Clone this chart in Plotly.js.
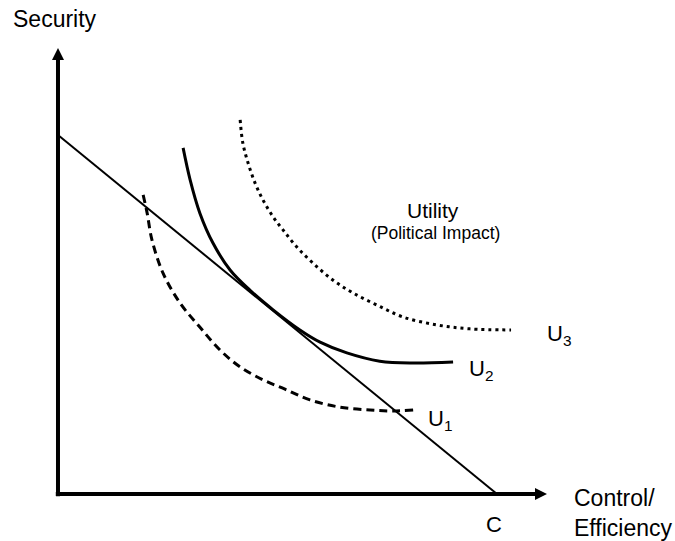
<!DOCTYPE html>
<html>
<head>
<meta charset="utf-8">
<script src="https://cdn.plot.ly/plotly-3.0.1.min.js"></script>
<style>html,body{margin:0;padding:0;background:#fff;}#chart{width:675px;height:541px;}</style>
</head>
<body>
<div id="chart"></div>
<script>
// Budget (constraint) line: from Security axis intercept to C on Control/Efficiency axis
const budgetX = [0, 100];
const budgetY = [100, 0];

// Indifference (utility) curves
const u1X = [19.4, 20.3, 21.4, 23.9, 27.8, 32.3, 36.9, 41.5, 46.7, 51.7, 57.4, 64.2, 71.1, 76.3, 80.9];
const u1Y = [83.3, 78.3, 70.8, 61.6, 53.2, 46.5, 40.1, 35.4, 31.8, 29.2, 26.2, 24.2, 23.4, 23.1, 23.4];

const u2X = [28.5, 30.1, 32.3, 35.3, 39.2, 43.7, 49.0, 55.1, 59.7, 65.8, 73.3, 80.9, 90.0];
const u2Y = [96.4, 87.5, 78.3, 69.9, 62.4, 56.8, 51.3, 45.7, 42.3, 39.3, 37.0, 36.5, 36.8];

const u3X = [41.5, 42.1, 43.3, 44.9, 46.7, 49.0, 51.3, 54.4, 58.1, 62.6, 67.2, 72.7, 78.6, 86.3, 93.8, 103.2];
const u3Y = [104.2, 97.8, 92.2, 86.6, 81.9, 77.2, 73.5, 68.8, 64.3, 59.6, 56.0, 52.6, 49.3, 47.1, 46.0, 45.7];

// Axis extents (arrow tips)
const xAxisStart = -0.5;
const xAxisEnd = 111.4;
const yAxisStart = -0.6;
const yAxisEnd = 124.2;

// Labels
const yTitle = "Security";
const xTitle = "Control/<br>Efficiency";
const cLabel = "C";
const utilTitle = "Utility";
const utilSub = "(Political Impact)";
const curveLabels = ["U<sub>1</sub>", "U<sub>2</sub>", "U<sub>3</sub>"];

const font = {family: "Liberation Sans, Arial, sans-serif", color: "#000"};
const f = (s) => Object.assign({size: s}, font);

const traces = [
  // axes
  {x: [0, 0], y: [yAxisStart, yAxisEnd - 2.5], mode: "lines", line: {color: "#000", width: 4}, hoverinfo: "skip"},
  {x: [xAxisStart, xAxisEnd - 2.2], y: [0, 0], mode: "lines", line: {color: "#000", width: 4}, hoverinfo: "skip"},
  {x: [0], y: [yAxisEnd], mode: "markers", marker: {symbol: "arrow-up", size: 12, color: "#000", line: {width: 0}}, hoverinfo: "skip"},
  {x: [xAxisEnd], y: [0], mode: "markers", marker: {symbol: "arrow-right", size: 12, color: "#000", line: {width: 0}}, hoverinfo: "skip"},
  // budget line and utility curves
  {x: budgetX, y: budgetY, mode: "lines", line: {color: "#000", width: 2}, hoverinfo: "skip"},
  {x: u1X, y: u1Y, mode: "lines", line: {color: "#000", width: 3, dash: "8px,5px", shape: "spline", smoothing: 1}, hoverinfo: "skip"},
  {x: u2X, y: u2Y, mode: "lines", line: {color: "#000", width: 3, shape: "spline", smoothing: 1}, hoverinfo: "skip"},
  {x: u3X, y: u3Y, mode: "lines", line: {color: "#000", width: 3, dash: "3px,4px", shape: "spline", smoothing: 1}, hoverinfo: "skip"}
];

const annotations = [
  {x: -10.7, y: 132.3, text: yTitle, showarrow: false, xanchor: "left", yanchor: "middle", font: f(23)},
  {x: 117.1, y: -5.3, text: xTitle, showarrow: false, xanchor: "left", yanchor: "middle", align: "left", font: f(23)},
  {x: 99.3, y: -8.4, text: cLabel, showarrow: false, xanchor: "center", yanchor: "middle", font: f(22)},
  {x: 85.4, y: 79.0, text: utilTitle, showarrow: false, xanchor: "center", yanchor: "middle", font: f(21)},
  {x: 86.1, y: 72.7, text: utilSub, showarrow: false, xanchor: "center", yanchor: "middle", font: f(17.5)},
  {x: 83.8, y: 20.6, text: curveLabels[0], showarrow: false, xanchor: "left", yanchor: "middle", font: f(22)},
  {x: 93.1, y: 34.5, text: curveLabels[1], showarrow: false, xanchor: "left", yanchor: "middle", font: f(22)},
  {x: 110.9, y: 44.2, text: curveLabels[2], showarrow: false, xanchor: "left", yanchor: "middle", font: f(22)}
];

const hiddenAxis = {showgrid: false, zeroline: false, showline: false, showticklabels: false, ticks: "", fixedrange: true};

const layout = {
  width: 675, height: 541, autosize: false,
  margin: {l: 0, r: 0, t: 0, b: 0, pad: 0},
  paper_bgcolor: "#fff", plot_bgcolor: "#fff",
  showlegend: false,
  xaxis: Object.assign({range: [-13.21, 140.55]}, hiddenAxis),
  yaxis: Object.assign({range: [-13.09, 137.60]}, hiddenAxis),
  annotations: annotations
};

Plotly.newPlot("chart", traces, layout, {staticPlot: true, displayModeBar: false});
</script>
</body>
</html>
